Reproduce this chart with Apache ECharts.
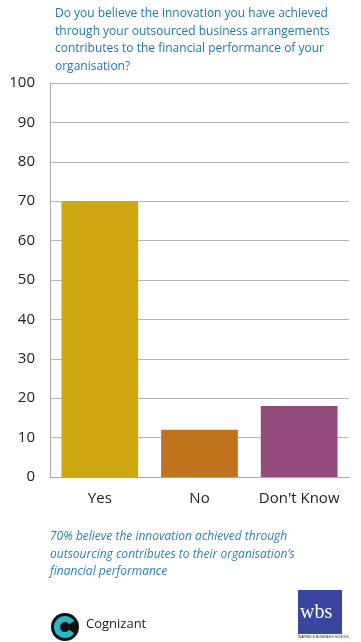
<!DOCTYPE html>
<html><head><meta charset="utf-8">
<style>html,body{margin:0;padding:0;background:#fff}#c{width:361px;height:642px}</style>
<script src="https://cdn.jsdelivr.net/npm/echarts@6/dist/echarts.min.js"></script>
</head><body><div id="c"></div>
<script>
const categories = ["Yes", "No", "Don't Know"];
const values = [70, 12, 18];
const barColors = ["#CFA712", "#C0731C", "#934A7C"];
const titleText = "Do you believe the innovation you have achieved\nthrough your outsourced business arrangements\ncontributes to the financial performance of your\norganisation?";
const noteText = "70% believe the innovation achieved through\noutsourcing contributes to their organisation\u2019s\nfinancial performance";

const chart = echarts.init(document.getElementById('c'), null, {renderer: 'canvas'});
chart.setOption({
  animation: false,
  title: {
    text: titleText, left: 50, top: 0,
    textStyle: {fontFamily: 'Open Sans', fontSize: 12, fontWeight: 'normal', color: '#1E78A8', lineHeight: 17.5}
  },
  grid: {left: 50, right: 12, top: 83, bottom: 165},
  xAxis: {
    type: 'category', data: categories,
    axisLine: {lineStyle: {color: '#A8A8A8'}},
    axisTick: {show: false},
    axisLabel: {interval: 0, hideOverlap: false, fontFamily: 'Open Sans', fontSize: 15, color: '#222', margin: 14}
  },
  yAxis: {
    type: 'value', min: 0, max: 100, interval: 10,
    axisLine: {show: true, lineStyle: {color: '#A8A8A8'}},
    axisTick: {show: false},
    splitLine: {lineStyle: {color: '#B4B4B4'}},
    axisLabel: {fontFamily: 'Open Sans', fontSize: 15, color: '#222', margin: 15}
  },
  series: [{
    type: 'bar', data: values.map((v, i) => ({value: v, itemStyle: {color: barColors[i]}})),
    barCategoryGap: '23%'
  }],
  graphic: [
    {type: 'text', left: 50, top: 528, style: {text: noteText, fontFamily: 'Open Sans', fontStyle: 'italic', fontSize: 12, fill: '#2A82B4', lineHeight: 17.5}},
    {type: 'circle', shape: {cx: 65, cy: 627, r: 14}, style: {fill: '#111'}},
    {type: 'arc', shape: {cx: 65, cy: 627, r: 8, startAngle: 0.6, endAngle: 5.7}, style: {stroke: '#2AB8C8', lineWidth: 6, fill: null}},
    {type: 'text', left: 86, top: 618, style: {text: 'Cognizant', fontFamily: 'Open Sans', fontSize: 13, fill: '#222'}},
    {type: 'rect', shape: {x: 298, y: 590, width: 44, height: 44}, style: {fill: '#3A45A0'}},
    {type: 'text', left: 300, top: 603, style: {text: 'wbs', fontFamily: 'Liberation Serif', fontSize: 20, fill: '#fff'}},
    {type: 'text', left: 298, top: 635, style: {text: 'WARWICK BUSINESS SCHOOL', fontFamily: 'Liberation Sans', fontSize: 3.5, fill: '#222'}}
  ]
});
</script></body></html>
